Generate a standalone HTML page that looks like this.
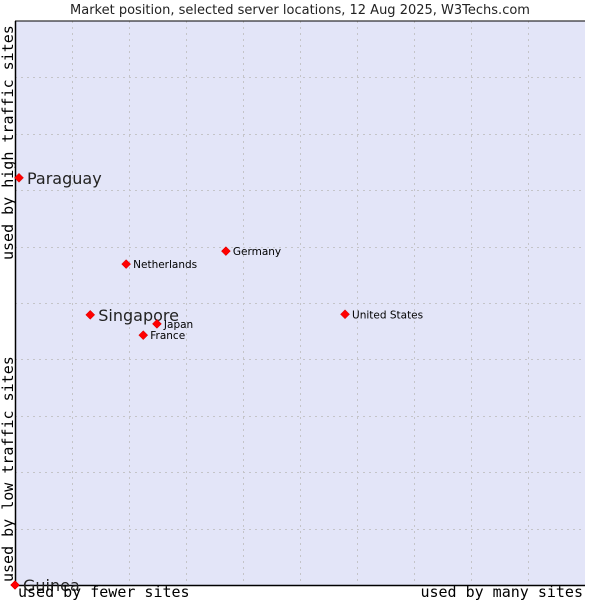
<!DOCTYPE html>
<html><head><meta charset="utf-8"><style>
body{margin:0;background:#fff;}
svg{display:block;}
</style></head><body>
<svg id="chart" width="600" height="600" xmlns="http://www.w3.org/2000/svg">
<text x="300" y="14" text-anchor="middle" font-family="DejaVu Sans, sans-serif" font-size="13" fill="#222">Market position, selected server locations, 12 Aug 2025, W3Techs.com</text>
<rect x="15" y="21" width="570" height="564" fill="#e3e5f8"/>
<g id="grid"></g>
<line x1="15.5" y1="21" x2="15.5" y2="585" stroke="#000" stroke-width="1.5"/>
<line x1="15" y1="585.5" x2="585" y2="585.5" stroke="#000" stroke-width="1.5"/>
<line x1="15" y1="21" x2="585" y2="21" stroke="#000" stroke-width="1"/>
<g id="points"></g>
<text x="18" y="597" font-family="DejaVu Sans Mono, Liberation Mono, monospace" font-size="15" fill="#000">used by fewer sites</text>
<text x="583" y="597" text-anchor="end" font-family="DejaVu Sans Mono, Liberation Mono, monospace" font-size="15" fill="#000">used by many sites</text>
<text transform="translate(13,582) rotate(-90)" font-family="DejaVu Sans Mono, Liberation Mono, monospace" font-size="15" fill="#000">used by low traffic sites</text>
<text transform="translate(13,260) rotate(-90)" font-family="DejaVu Sans Mono, Liberation Mono, monospace" font-size="15" fill="#000">used by high traffic sites</text>
</svg>
<script>
const names=["Paraguay","Netherlands","Germany","Singapore","Japan","France","United States","Guinea"];
const xVals=[0.7,19.5,37.0,13.2,24.9,22.5,57.9,0];
const yVals=[72.2,56.9,59.2,47.9,46.3,44.3,48.0,0];
const bigLabel=[true,false,false,true,false,false,false,true];
const gridTicks=[10,20,30,40,50,60,70,80,90];
const NS="http://www.w3.org/2000/svg";
const X0=15,X1=585,Y0=585,Y1=21;
function sx(v){return X0+(X1-X0)*v/100;}
function sy(v){return Y0-(Y0-Y1)*v/100;}
const grid=document.getElementById('grid');
gridTicks.forEach(t=>{
  const v=document.createElementNS(NS,'line');
  
  
  v.setAttribute('x1',Math.round(sx(t))+0.5);v.setAttribute('x2',Math.round(sx(t))+0.5);
  v.setAttribute('y1',Y1);v.setAttribute('y2',Y0);
  v.setAttribute('stroke','#c4c4c8');v.setAttribute('stroke-dasharray','2,4');
  grid.appendChild(v);
  const h=document.createElementNS(NS,'line');
  
  
  h.setAttribute('y1',Math.round(sy(t))+0.5);h.setAttribute('y2',Math.round(sy(t))+0.5);
  h.setAttribute('x1',X0);h.setAttribute('x2',X1);
  h.setAttribute('stroke','#c4c4c8');h.setAttribute('stroke-dasharray','2,4');
  grid.appendChild(h);
});
const pts=document.getElementById('points');
names.forEach((n,i)=>{
  const x=sx(xVals[i]),y=sy(yVals[i]);
  const d=document.createElementNS(NS,'path');
  
  
  d.setAttribute('d',`M${x-4.5},${y}L${x},${y-4.5}L${x+4.5},${y}L${x},${y+4.5}Z`);
  d.setAttribute('fill','#ff0000');d.setAttribute('stroke','#c00');d.setAttribute('stroke-width','0.5');
  pts.appendChild(d);
  const t=document.createElementNS(NS,'text');
  
  
  const big=bigLabel[i];
  t.setAttribute('x',x+(big?8:7));
  t.setAttribute('y',y+(big?6:4));
  t.setAttribute('font-family','DejaVu Sans, sans-serif');
  t.setAttribute('font-size',big?'16':'10.5');
  t.setAttribute('fill',big?'#222':'#000');
  t.textContent=n;
  pts.appendChild(t);
});
</script>
</body></html>
